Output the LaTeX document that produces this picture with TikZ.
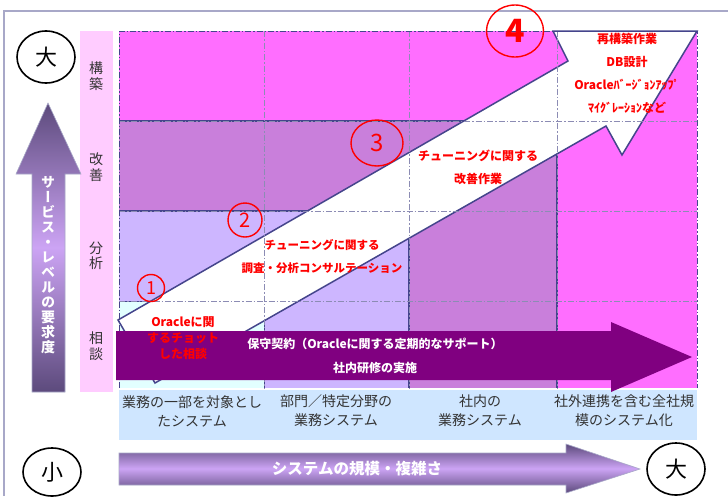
\documentclass[tikz,border=0pt]{standalone}
\usepackage{fontspec}
\setmainfont{Noto Sans CJK JP}
\newfontfamily\jpv[RawFeature=+vert]{Noto Sans CJK JP}
\usetikzlibrary{shapes.geometric}
\definecolor{magentaA}{HTML}{FF6EFF}
\definecolor{purpleA}{HTML}{C97FDB}
\definecolor{lavA}{HTML}{CDB6FF}
\definecolor{cyanA}{HTML}{E2FFFF}
\definecolor{blueA}{HTML}{CFE6FF}
\definecolor{pinkA}{HTML}{FFCCFF}
\definecolor{edgeA}{HTML}{45458C}
\definecolor{gridA}{HTML}{8C8CB4}
\definecolor{barA}{HTML}{800080}
\definecolor{redA}{HTML}{FF0000}
\definecolor{frameA}{HTML}{A8A8C8}
\definecolor{textA}{HTML}{333333}
\definecolor{arrDark}{HTML}{5C4A7C}
\definecolor{arrLight}{HTML}{CCA4F4}
\begin{document}
\begin{tikzpicture}[x=1pt,y=-1pt,
  redtxt/.style={text=redA,font=\fontsize{12}{16}\selectfont\bfseries,align=center,inner sep=0pt},
  cattxt/.style={text=textA,font=\fontsize{14}{19}\selectfont,align=center,inner sep=0pt},
  lvltxt/.style={text=textA,font=\jpv\fontsize{14}{15.5}\selectfont,align=center,inner sep=0pt},
  bigcirc/.style={draw=black,line width=1.6pt,ellipse,minimum width=58pt,minimum height=52pt,inner sep=0pt,font=\fontsize{22}{22}\selectfont},
  redcirc/.style={draw=redA,line width=1.4pt,ellipse,inner sep=0pt,text=redA},
  gridline/.style={draw=gridA,line width=0.7pt,dash pattern=on 6pt off 2pt on 1.5pt off 2pt},
  rectedge/.style={draw=edgeA,line width=1.4pt}
]
\useasboundingbox (0,0) rectangle (728,496);
\fill[white] (0,0) rectangle (728,496);
% outer frame
\draw[frameA,line width=1.2pt] (4,496) -- (4,11) -- (728,11);

% level strip
\fill[pinkA] (80,31) rectangle (113,392);
\node[lvltxt] (l4) at (96,76) {構\\築};
\node[lvltxt] (l3) at (96,167) {改\\善};
\node[lvltxt] (l2) at (96,256) {分\\析};
\node[lvltxt] (l1) at (96,346) {相\\談};

% staircase regions
\fill[magentaA] (119,31) rectangle (697,388);
\fill[purpleA] (119,121) rectangle (557,388);
\fill[lavA] (119,211) rectangle (409,388);
\fill[cyanA] (119,301) rectangle (264,388);
\draw[rectedge] (119,121) -- (557,121) -- (557,388);
\draw[rectedge] (119,211) -- (409,211) -- (409,388);
\draw[edgeA,line width=0.8pt] (119,301) -- (264,301) -- (264,388);

% big white arrow
\draw[fill=white,draw=edgeA,line width=1.5pt,line join=miter]
  (118,320) -- (568,61) -- (553,31) -- (697,31) -- (622,155) -- (606,126) -- (155,383) -- cycle;

% grid lines
\foreach \gx in {264,409,557}{\draw[gridline] (\gx,31) -- (\gx,388);}
\foreach \gy in {121,211,301}{\draw[gridline] (119,\gy) -- (697,\gy);}
\draw[gridline,draw=edgeA] (119,388) -- (119,31) -- (697,31) -- (697,388);

% category strip
\fill[blueA] (119,390) rectangle (697,440);
\node[cattxt] (c1) at (192,411) {業務の一部を対象とし\\たシステム};
\node[cattxt] (c2) at (336,411) {部門／特定分野の\\業務システム};
\node[cattxt] (c3) at (480,411) {社内の\\業務システム};
\node[cattxt] (c4) at (624,411) {社外連携を含む全社規\\模のシステム化};

% maintenance bar arrow
\fill[barA] (116,331) -- (611,331) -- (611,322) -- (692,357) -- (611,392) -- (611,380) -- (116,380) -- cycle;
\node[text=white,font=\fontsize{12}{24}\selectfont\bfseries,align=center,inner sep=0pt] (bar) at (375,356)
  {保守契約（Oracleに関する定期的なサポート）\\社内研修の実施};

% red texts
\node[redtxt] (t1) at (183,338) {Oracleに関\\するチョット\\した相談};
\node[redtxt,font=\fontsize{11.5}{23}\selectfont\bfseries] (t2) at (322,257) {チューニングに関する\\調査・分析コンサルテーション};
\node[redtxt,font=\fontsize{12}{23}\selectfont\bfseries] (t3) at (478,167) {チューニングに関する\\改善作業};
\node[redtxt,font=\fontsize{12}{23}\selectfont\bfseries] (t4) at (627,73) {再構築作業\\DB設計\\Oracleﾊﾞｰｼﾞｮﾝｱｯﾌﾟ\\ﾏｲｸﾞﾚｰｼｮﾝなど};

% red circled numbers
\node[redcirc,minimum width=27pt,minimum height=27pt,font=\fontsize{18}{18}\selectfont] (n1) at (151,288) {1};
\node[redcirc,minimum width=34pt,minimum height=34pt,font=\fontsize{20}{20}\selectfont] (n2) at (245,220) {2};
\node[redcirc,minimum width=52pt,minimum height=46pt,font=\fontsize{24}{24}\selectfont] (n3) at (377,143) {3};
\node[redcirc,minimum width=57pt,minimum height=52pt,font=\fontsize{32}{32}\selectfont\bfseries] (n4) at (515,31) {4};

% left vertical arrow
\shade[top color=arrDark,bottom color=arrDark,middle color=arrLight,draw=frameA,line width=0.6pt]
  (48,103) -- (81,174) -- (65,174) -- (65,392) -- (32,392) -- (32,174) -- (16,174) -- cycle;
\node[text=white,font=\jpv\fontsize{14}{15}\selectfont\bfseries,align=center,inner sep=0pt] (vtxt) at (48,265.5)
  {サ\\ー\\ビ\\ス\\・\\レ\\ベ\\ル\\の\\要\\求\\度};

% bottom horizontal arrow
\shade[top color=arrDark,bottom color=arrDark,middle color=arrLight,draw=frameA,line width=0.6pt]
  (119,453) -- (566,453) -- (566,444) -- (640,469) -- (566,493) -- (566,485) -- (119,485) -- cycle;
\node[text=white,font=\fontsize{15.5}{16}\selectfont\bfseries,inner sep=0pt] (htxt) at (357,469) {システムの規模・複雑さ};

% big circles
\node[bigcirc] (big1) at (46,57) {大};
\node[bigcirc,minimum height=48pt] (small) at (52,472) {小};
\node[bigcirc] (big2) at (676,469) {大};
\end{tikzpicture}
\end{document}
